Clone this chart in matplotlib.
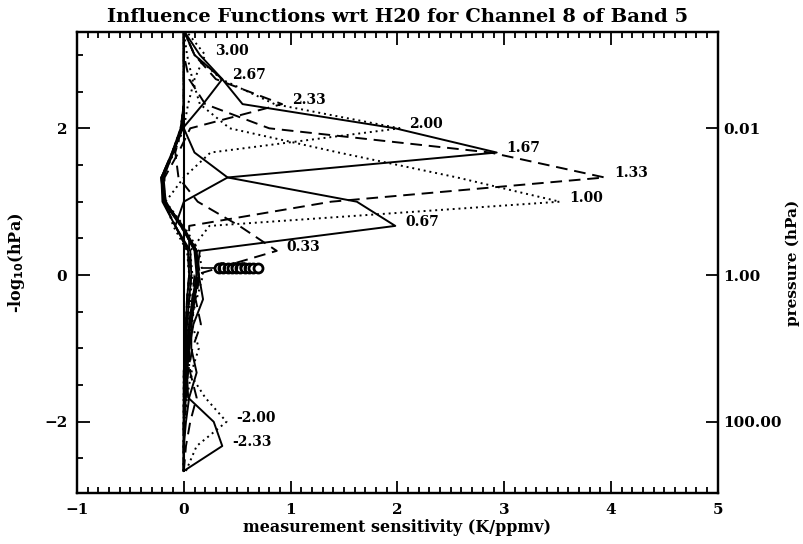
"""Influence functions wrt H2O, channel 8 of band 5 (IDL-style replot)."""

import matplotlib
matplotlib.use("Agg")
import matplotlib.pyplot as plt
from matplotlib.ticker import MultipleLocator

plt.rcParams.update({
    "font.family": "DejaVu Serif", "font.weight": "bold",
    "axes.linewidth": 1.6,
})

# --- data ------------------------------------------------------------------ #
# retrieval grid, -log10(p / hPa)
Y = [-2.67, -2.33, -2.0, -1.67, -1.33, -1.0, -0.67, -0.33, 0.0, 0.33,
     0.67, 1.0, 1.33, 1.67, 2.0, 2.33, 2.67, 3.0, 3.33]

# perturbed level of each influence function
LEVELS = [-2.33, -2.0, -1.67, -1.33, -1.0, -0.67, -0.33, 0.0, 0.33, 0.67,
          1.0, 1.33, 1.67, 2.0, 2.33, 2.67, 3.0]

# sensitivity (K/ppmv) on the Y grid, one row per level (bottom -> top)
SENS = [
    [0.0, 0.36, 0.28, 0.04, 0.03, 0.04, 0.06, 0.09, 0.12, 0.10, -0.02, -0.17, -0.19, -0.10, -0.02, 0.0, 0.0, 0.0, 0.0],
    [0.02, 0.12, 0.40, 0.20, 0.05, 0.05, 0.07, 0.10, 0.13, 0.11, -0.03, -0.18, -0.20, -0.11, -0.03, 0.0, 0.0, 0.0, 0.0],
    [0.0, 0.02, 0.06, 0.12, 0.06, 0.05, 0.07, 0.10, 0.13, 0.12, -0.02, -0.17, -0.20, -0.10, -0.02, 0.0, 0.0, 0.0, 0.0],
    [0.0, 0.0, 0.02, 0.05, 0.12, 0.07, 0.07, 0.10, 0.14, 0.11, -0.03, -0.19, -0.21, -0.11, -0.03, 0.0, 0.0, 0.0, 0.0],
    [0.0, 0.0, 0.01, 0.03, 0.07, 0.14, 0.08, 0.10, 0.14, 0.12, -0.02, -0.18, -0.20, -0.10, -0.02, 0.0, 0.0, 0.0, 0.0],
    [0.0, 0.0, 0.01, 0.02, 0.04, 0.08, 0.16, 0.11, 0.15, 0.12, -0.02, -0.19, -0.21, -0.11, -0.02, 0.0, 0.0, 0.0, 0.0],
    [0.0, 0.0, 0.0, 0.02, 0.03, 0.05, 0.09, 0.18, 0.14, 0.12, -0.01, -0.18, -0.21, -0.10, -0.02, 0.0, 0.0, 0.0, 0.0],
    [0.0, 0.0, 0.0, 0.01, 0.03, 0.04, 0.06, 0.12, 0.18, 0.14, 0.0, -0.17, -0.20, -0.10, -0.02, 0.0, 0.0, 0.0, 0.0],
    [0.0, 0.0, 0.0, 0.01, 0.02, 0.03, 0.05, 0.08, 0.10, 0.87, 0.52, 0.13, -0.05, -0.08, -0.02, 0.0, 0.0, 0.0, 0.0],
    [0.0, 0.0, 0.0, 0.01, 0.02, 0.03, 0.05, 0.08, 0.12, 0.15, 1.98, 1.62, 0.41, 0.10, 0.0, 0.0, 0.0, 0.0, 0.0],
    [0.0, 0.0, 0.0, 0.0, 0.01, 0.02, 0.04, 0.06, 0.08, 0.06, 0.24, 3.52, 2.56, 1.45, 0.43, 0.15, 0.08, 0.03, 0.0],
    [0.0, 0.0, 0.0, 0.0, 0.01, 0.02, 0.03, 0.05, 0.07, 0.05, 0.05, 1.38, 3.94, 2.87, 0.80, 0.20, 0.05, 0.0, 0.0],
    [0.0, 0.0, 0.0, 0.0, 0.01, 0.02, 0.03, 0.05, 0.07, 0.06, -0.08, 0.0, 0.41, 2.93, 1.98, 0.55, 0.36, 0.10, 0.0],
    [0.0, 0.0, 0.0, 0.0, 0.0, 0.01, 0.02, 0.04, 0.05, 0.03, -0.10, -0.17, 0.0, 0.25, 2.02, 0.85, 0.35, 0.10, 0.0],
    [0.0, 0.0, 0.0, 0.0, 0.0, 0.01, 0.02, 0.03, 0.05, 0.04, -0.08, -0.19, -0.18, -0.05, 0.06, 0.92, 0.30, 0.10, 0.0],
    [0.0, 0.0, 0.0, 0.0, 0.0, 0.01, 0.02, 0.03, 0.05, 0.04, -0.08, -0.20, -0.21, -0.10, -0.01, 0.18, 0.36, 0.15, 0.0],
    [0.0, 0.0, 0.0, 0.0, 0.0, 0.01, 0.02, 0.03, 0.05, 0.04, -0.08, -0.19, -0.20, -0.09, 0.0, 0.04, 0.10, 0.20, 0.02],
]

# labels of the near-surface functions pile up into a clump at ~0.1
CLUMP_X = [0.33, 0.37, 0.41, 0.45, 0.49, 0.53, 0.57, 0.61, 0.65, 0.69]
CLUMP_Y = 0.09
LABELLED = [-2.33, -2.0, 0.33, 0.67, 1.0, 1.33, 1.67, 2.0, 2.33, 2.67, 3.0]

PRESS_TICKS = [2, 0, -2]
PRESS_LABELS = ["0.01", "1.00", "100.00"]

STYLES = ["-", (0, (1, 2)), (0, (6, 3.5))]

# --------------------------------------------------------------------------- #
fig = plt.figure(figsize=(8.04, 5.44), dpi=100)
ax = fig.add_axes([0.0958, 0.0938, 0.797, 0.847])

ax.vlines(0, Y[0], Y[-1], color="black", lw=1.5)
for i, (lev, xs) in enumerate(zip(LEVELS, SENS)):
    ax.plot(xs, Y, color="black", lw=1.4, ls=STYLES[i % 3])
    if lev in LABELLED:
        k = Y.index(lev)
        ax.annotate(f"{lev:.2f}", (xs[k], lev), xytext=(7, 3),
                    textcoords="offset points", fontsize=10, va="center",
                    ha="left", fontweight="bold")

# clump where the near-surface labels overlap
ax.plot([0.18, CLUMP_X[0]], [CLUMP_Y, CLUMP_Y], color="black", lw=1.2)
ax.plot(CLUMP_X, [CLUMP_Y] * len(CLUMP_X), "o", ms=6.5, mfc="white",
        mec="black", mew=2.0, color="black")
ax.text(CLUMP_X[0] - 0.02, CLUMP_Y, "0.00", fontsize=9, va="center",
        ha="left", fontweight="bold")

ax.set_xlim(-1, 5)
ax.set_ylim(-2.97, 3.31)
ax.xaxis.set_major_locator(MultipleLocator(1))
ax.xaxis.set_minor_locator(MultipleLocator(0.1))
ax.yaxis.set_major_locator(MultipleLocator(2))
ax.yaxis.set_minor_locator(MultipleLocator(0.5))
ax.tick_params(which="both", direction="in", top=True, right=False,
               labelsize=11, width=1.3)
ax.tick_params(which="major", length=9, pad=7)
ax.tick_params(which="minor", length=4.5)
ax.set_xlabel("measurement sensitivity (K/ppmv)", fontsize=11.5,
              fontweight="bold", labelpad=2)
ax.set_ylabel(r"-log$_{\mathbf{10}}$(hPa)", fontsize=11.5, fontweight="bold",
              labelpad=12)
ax.set_title("Influence Functions wrt H20 for Channel 8 of Band 5",
             fontsize=14, fontweight="bold", pad=7)

ax2 = ax.twinx()
ax2.set_ylim(ax.get_ylim())
ax2.set_yticks(PRESS_TICKS)
ax2.set_yticklabels(PRESS_LABELS)
ax2.tick_params(direction="in", length=9, width=1.3, labelsize=11, pad=4)
ax2.set_ylabel("pressure (hPa)", fontsize=11, fontweight="bold",
               rotation=90, labelpad=3)

fig.savefig("out.png", dpi=100)
